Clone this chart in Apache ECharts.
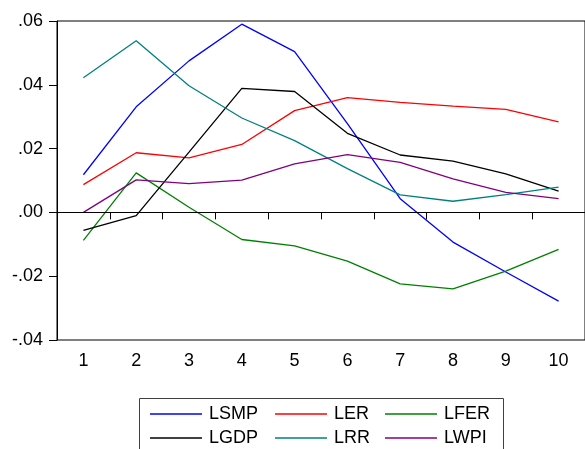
<!DOCTYPE html>
<html>
<head>
<meta charset="utf-8">
<script src="https://cdn.jsdelivr.net/npm/echarts@6/dist/echarts.min.js"></script>
<style>
html,body{margin:0;padding:0;background:#fff;}
#chart{width:585px;height:449px;}
</style>
</head>
<body>
<div id="chart"></div>
<script>
const categories = ['1','2','3','4','5','6','7','8','9','10'];
const LSMP = [0.0118, 0.0331, 0.0475, 0.0590, 0.0504, 0.0278, 0.0043, -0.0093, -0.0187, -0.0278];
const LER  = [0.0087, 0.0187, 0.0171, 0.0213, 0.0319, 0.0360, 0.0345, 0.0333, 0.0323, 0.0284];
const LFER = [-0.0088, 0.0124, 0.0016, -0.0085, -0.0105, -0.0153, -0.0224, -0.0240, -0.0184, -0.0116];
const LGDP = [-0.0056, -0.0010, 0.0189, 0.0389, 0.0379, 0.0248, 0.0180, 0.0161, 0.0121, 0.0067];
const LRR  = [0.0422, 0.0538, 0.0397, 0.0296, 0.0225, 0.0137, 0.0055, 0.0035, 0.0056, 0.0079];
const LWPI = [0.0000, 0.0102, 0.0090, 0.0101, 0.0152, 0.0181, 0.0157, 0.0105, 0.0063, 0.0043];

const seriesDefs = [
  {name:'LSMP', data:LSMP, color:'#0000ff'},
  {name:'LER',  data:LER,  color:'#ff0000'},
  {name:'LFER', data:LFER, color:'#008000'},
  {name:'LGDP', data:LGDP, color:'#000000'},
  {name:'LRR',  data:LRR,  color:'#008080'},
  {name:'LWPI', data:LWPI, color:'#800080'}
];

const FONT = 'Liberation Sans, Arial, sans-serif';
const FS = 18;
const chart = echarts.init(document.getElementById('chart'), null, {renderer:'canvas'});

const legendPos = [
  {left:150, top:405}, {left:275, top:405}, {left:385, top:405},
  {left:150, top:429}, {left:275, top:429}, {left:385, top:429}
];

const series = seriesDefs.map((s, i) => {
  const o = {
    name: s.name,
    type: 'line',
    data: s.data,
    symbol: 'none',
    smooth: false,
    lineStyle: {color: s.color, width: 1.3},
    itemStyle: {color: s.color},
    z: 3,
    animation: false
  };
  if (i === 0) {
    o.markLine = {
      silent: true,
      symbol: 'none',
      animation: false,
      label: {show: false},
      lineStyle: {color: '#000', width: 1, type: 'solid'},
      data: [{yAxis: 0}]
    };
  }
  return o;
});

const option = {
  backgroundColor: '#fff',
  animation: false,
  grid: {left:57, top:21, width:530, height:319, show:true, borderColor:'#000', borderWidth:1, backgroundColor:'transparent'},
  xAxis: {
    type: 'category',
    data: categories,
    boundaryGap: true,
    axisLine: {show:true, lineStyle:{color:'#000', width:1}},
    axisTick: {show:true, inside:false, length:7, lineStyle:{color:'#000'}},
    axisLabel: {color:'#000', fontSize:FS, fontFamily:FONT, margin:12, interval:0},
    splitLine: {show:false}
  },
  yAxis: {
    type: 'value',
    min: -0.04, max: 0.06, interval: 0.02,
    axisLine: {show:true, lineStyle:{color:'#000', width:1}},
    axisTick: {show:true, inside:false, length:8, lineStyle:{color:'#000'}},
    axisLabel: {
      color:'#000', fontSize:FS, fontFamily:FONT, margin:14,
      formatter: function(v){
        let r = Math.round(v*100)/100;
        if (Math.abs(r) < 1e-9) return '.00';
        let s = Math.abs(r).toFixed(2).replace(/^0/, '');
        return (r < 0 ? '-' : '') + s;
      }
    },
    splitLine: {show:false}
  },
  legend: seriesDefs.map((s, i) => ({
    data: [{name: s.name, icon: 'rect'}],
    left: legendPos[i].left,
    top: legendPos[i].top,
    padding: 0,
    itemWidth: 52,
    itemHeight: 1.5,
    itemGap: 0,
    selectedMode: false,
    textStyle: {color:'#000', fontSize:FS, fontFamily:FONT, padding:[0,0,0,2]}
  })),
  graphic: [{
    type: 'rect',
    shape: {x:139.5, y:398.5, width:364, height:60},
    style: {fill:'none', stroke:'#404040', lineWidth:1},
    silent: true
  }],
  series: series
};
chart.setOption(option);
</script>
</body>
</html>
